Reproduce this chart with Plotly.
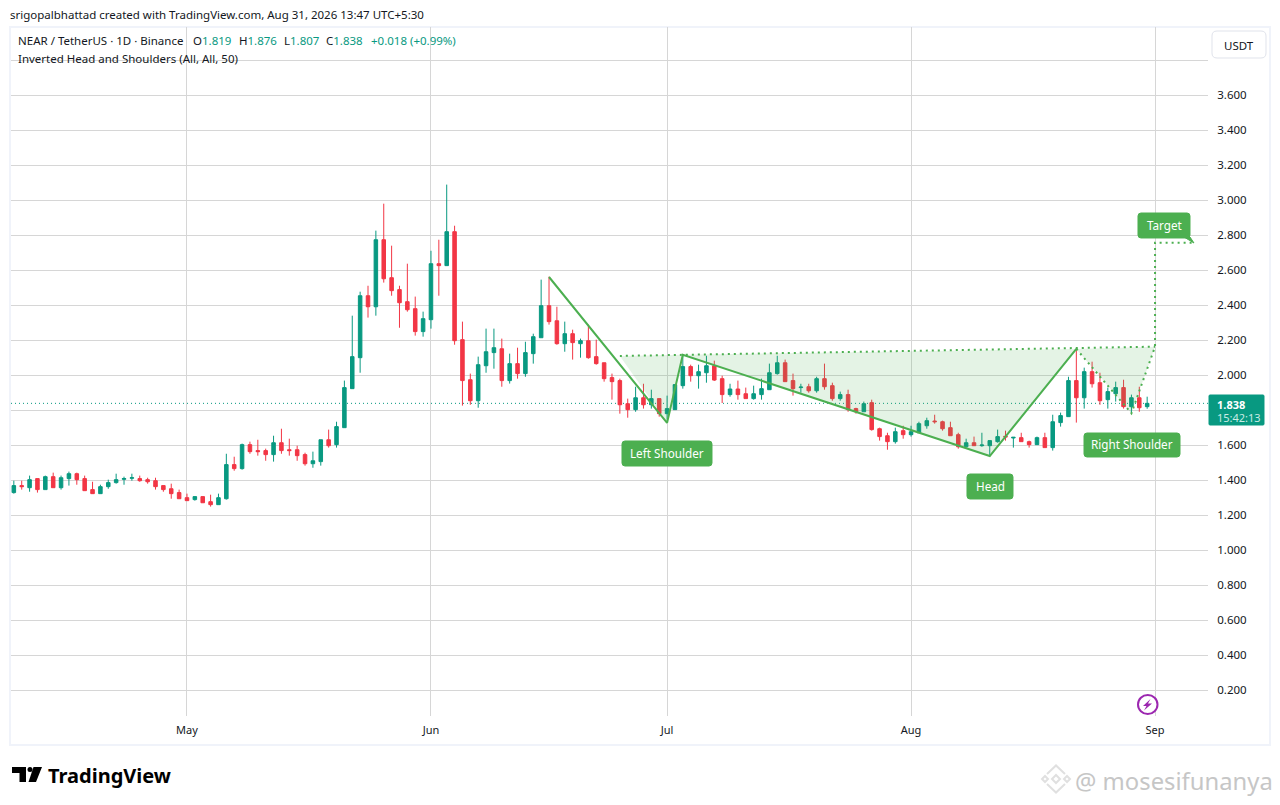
import pandas as pd
import plotly.graph_objects as go

# daily candles (Apr 9 to Aug 31)
dates = pd.date_range("2026-04-09", "2026-08-31", freq="D")
opens = [1.328,1.368,1.356,1.408,1.345,1.419,1.356,1.408,1.436,1.408,1.345,1.322,1.362,1.385,1.404,1.41,1.408,1.402,1.396,1.368,1.35,1.328,1.299,1.288,1.305,1.276,1.259,1.293,1.488,1.465,
         1.602,1.568,1.568,1.545,1.613,1.573,1.573,1.545,1.493,1.505,1.63,1.602,1.699,1.922,2.099,2.453,2.39,2.773,2.556,2.488,
         2.419,2.379,2.248,2.316,2.636,2.625,2.819,2.202,1.973,1.853,2.053,2.128,2.15,1.968,2.065,2.008,2.122,2.213,2.396,2.31,
         2.179,2.236,2.179,2.196,2.105,2.07,1.985,1.968,1.836,1.802,1.87,1.83,1.865,1.779,1.802,1.939,2.048,1.996,2.013,2.053,
         1.979,1.888,1.92,1.893,1.865,1.888,1.916,2.008,2.07,1.968,1.928,1.933,1.91,1.979,1.939,1.865,1.888,1.808,1.79,1.842,
         1.693,1.653,1.619,1.682,1.659,1.67,1.71,1.737,1.733,1.699,1.659,1.59,1.613,1.596,1.596,1.619,1.65,1.64,1.642,1.619,
         1.602,1.642,1.585,1.728,1.762,1.968,1.87,2.019,1.956,1.859,1.893,1.928,1.819,1.87,1.819]
highs = [1.396,1.396,1.425,1.408,1.425,1.442,1.425,1.448,1.442,1.425,1.39,1.373,1.402,1.436,1.419,1.436,1.425,1.413,1.413,1.368,1.379,1.345,1.322,1.305,1.305,1.316,1.322,1.55,1.533,1.608,
         1.619,1.63,1.579,1.653,1.693,1.636,1.596,1.556,1.562,1.63,1.688,1.733,1.968,2.339,2.476,2.51,2.825,2.979,2.739,2.51,
         2.636,2.448,2.362,2.71,2.773,3.088,2.853,2.305,2.008,2.105,2.265,2.265,2.208,2.122,2.156,2.19,2.236,2.545,2.562,2.39,
         2.305,2.259,2.208,2.288,2.202,2.07,2.008,1.979,1.865,1.933,1.95,1.916,1.865,1.882,1.945,2.116,2.059,2.059,2.11,2.082,
         1.996,1.95,1.968,1.928,1.939,1.979,2.065,2.11,2.088,2.008,1.95,1.95,1.99,2.065,1.956,1.905,1.916,1.813,1.848,1.859,
         1.699,1.67,1.699,1.71,1.71,1.733,1.756,1.773,1.739,1.733,1.67,1.636,1.648,1.67,1.625,1.688,1.682,1.644,1.67,1.625,
         1.648,1.67,1.773,1.785,1.99,2.15,2.042,2.076,2.013,1.928,1.962,1.973,1.888,1.933,1.876]
lows = [1.322,1.345,1.333,1.328,1.345,1.356,1.345,1.368,1.373,1.339,1.322,1.322,1.35,1.379,1.373,1.396,1.39,1.379,1.345,1.333,1.293,1.293,1.282,1.282,1.27,1.248,1.259,1.288,1.453,1.459,
        1.55,1.539,1.51,1.505,1.55,1.539,1.51,1.482,1.47,1.482,1.585,1.585,1.699,1.922,2.013,2.328,2.339,2.528,2.453,2.27,
        2.362,2.225,2.219,2.265,2.453,2.625,2.173,1.825,1.83,1.813,2.013,2.036,1.933,1.951,1.979,1.99,2.065,2.213,2.288,2.173,
        2.133,2.088,2.099,2.093,2.059,1.962,1.859,1.779,1.756,1.79,1.808,1.808,1.762,1.745,1.802,1.922,1.962,1.922,1.956,1.966,
        1.84,1.876,1.859,1.865,1.859,1.859,1.916,2.002,1.962,1.882,1.899,1.899,1.899,1.916,1.853,1.853,1.79,1.779,1.79,1.682,
        1.625,1.573,1.608,1.636,1.648,1.67,1.693,1.722,1.682,1.653,1.579,1.585,1.596,1.59,1.539,1.613,1.625,1.585,1.619,1.585,
        1.602,1.585,1.568,1.705,1.762,1.728,1.808,1.928,1.83,1.808,1.848,1.808,1.779,1.79,1.807]
closes = [1.368,1.362,1.402,1.345,1.419,1.356,1.413,1.436,1.402,1.339,1.322,1.362,1.385,1.402,1.408,1.413,1.396,1.39,1.362,1.345,1.322,1.293,1.282,1.305,1.27,1.259,1.299,1.488,1.465,1.602,
          1.562,1.562,1.545,1.613,1.568,1.568,1.539,1.493,1.51,1.63,1.596,1.705,1.928,2.105,2.453,2.39,2.773,2.55,2.482,2.413,
          2.373,2.248,2.322,2.636,2.625,2.819,2.196,1.968,1.853,2.059,2.133,2.156,1.968,2.065,2.008,2.128,2.219,2.396,2.305,2.179,
          2.236,2.185,2.196,2.099,2.065,1.979,1.962,1.83,1.802,1.87,1.83,1.865,1.779,1.808,1.945,2.048,1.996,2.019,2.053,1.971,
          1.888,1.92,1.888,1.865,1.893,1.922,2.013,2.07,1.962,1.922,1.931,1.91,1.979,1.933,1.865,1.888,1.802,1.79,1.836,1.688,
          1.648,1.619,1.676,1.659,1.676,1.722,1.739,1.733,1.693,1.653,1.59,1.613,1.596,1.6,1.625,1.648,1.646,1.644,1.619,1.602,
          1.642,1.585,1.733,1.768,1.968,1.87,2.019,1.95,1.853,1.905,1.928,1.819,1.87,1.813,1.838]
last_close = 1.838

month_ticks = ["2026-05-01", "2026-06-01", "2026-07-01", "2026-08-01", "2026-09-01"]
month_labels = ["May", "Jun", "Jul", "Aug", "Sep"]
price_ticks = [0.2, 0.4, 0.6, 0.8, 1.0, 1.2, 1.4, 1.6, 1.8, 2.0, 2.2, 2.4, 2.6, 2.8, 3.0, 3.2, 3.4, 3.6, 3.8]
price_labels = ["0.200", "0.400", "0.600", "0.800", "1.000", "1.200", "1.400", "1.600", "", "2.000",
                "2.200", "2.400", "2.600", "2.800", "3.000", "3.200", "3.400", "3.600", ""]

# head and shoulders drawing
solid_dates = ["2026-06-16", "2026-07-01", "2026-07-03", "2026-08-11", "2026-08-22"]
solid_prices = [2.56, 1.727, 2.116, 1.537, 2.149]
neck_dates = ["2026-06-25", "2026-09-01"]
neck_prices = [2.109, 2.162]
right_dates = ["2026-08-22", "2026-08-29", "2026-09-01", "2026-09-01", "2026-09-06"]
right_prices = [2.149, 1.781, 2.162, 2.756, 2.756]
shade_dates = ["2026-06-25", "2026-07-01", "2026-07-03", "2026-06-25", None,
               "2026-07-03", "2026-08-11", "2026-08-22", "2026-07-03", None,
               "2026-08-22", "2026-08-29", "2026-09-01", "2026-08-22"]
shade_prices = [2.109, 1.727, 2.116, 2.109, None,
                2.116, 1.537, 2.149, 2.116, None,
                2.149, 1.781, 2.162, 2.149]

UP = "#089981"
DOWN = "#f23645"
GREEN = "#4caf50"
GRID = "#d6d6d6"
TEXT = "#131722"
MARK = "#e0e0e0"
FONT = "Noto Sans"

L, R, T, B = 11, 1208, 27, 716


def px(x):
    return (x - L) / (R - L)


def py(y):
    return (B - y) / (B - T)


def path(points, close=True):
    s = "M " + " L ".join(f"{px(x):.5f},{py(y):.5f}" for x, y in points)
    return s + (" Z" if close else "")


def rounded(x0, y0, x1, y1, r=3):
    return (f"M {px(x0 + r):.5f},{py(y0):.5f} L {px(x1 - r):.5f},{py(y0):.5f} "
            f"Q {px(x1):.5f},{py(y0):.5f} {px(x1):.5f},{py(y0 + r):.5f} "
            f"L {px(x1):.5f},{py(y1 - r):.5f} Q {px(x1):.5f},{py(y1):.5f} {px(x1 - r):.5f},{py(y1):.5f} "
            f"L {px(x0 + r):.5f},{py(y1):.5f} Q {px(x0):.5f},{py(y1):.5f} {px(x0):.5f},{py(y1 - r):.5f} "
            f"L {px(x0):.5f},{py(y0 + r):.5f} Q {px(x0):.5f},{py(y0):.5f} {px(x0 + r):.5f},{py(y0):.5f} Z")


def box(x0, y0, x1, y1, fill, line=None, r=3):
    return dict(type="path", path=rounded(x0, y0, x1, y1, r), xref="paper", yref="paper",
                fillcolor=fill, line=dict(color=line or fill, width=1), layer="above")


def poly(points, fill="rgba(0,0,0,0)", line=None, width=1, close=True):
    return dict(type="path", path=path(points, close), xref="paper", yref="paper", fillcolor=fill,
                line=dict(color=line or "rgba(0,0,0,0)", width=width), layer="above")


def label(x, y, text, size=11.5, color=TEXT, anchor="left", font=FONT):
    # annotations carry about 2px of padding on the left
    x = x - 2 if anchor == "left" else x
    return dict(x=px(x), y=py(y), xref="paper", yref="paper", text=text, showarrow=False, xanchor=anchor,
                yanchor="middle", font=dict(family=font, size=size, color=color))


fig = go.Figure()
fig.add_trace(go.Candlestick(x=dates, open=opens, high=highs, low=lows, close=closes,
                             increasing=dict(line=dict(color=UP, width=1), fillcolor=UP),
                             decreasing=dict(line=dict(color=DOWN, width=1), fillcolor=DOWN),
                             whiskerwidth=0, hoverinfo="skip"))
fig.add_trace(go.Scatter(x=shade_dates, y=shade_prices, mode="none", fill="toself",
                         fillcolor="rgba(76,175,80,0.15)", hoverinfo="skip"))
fig.add_trace(go.Scatter(x=solid_dates, y=solid_prices, mode="lines", line=dict(color=GREEN, width=2), hoverinfo="skip"))
fig.add_trace(go.Scatter(x=neck_dates, y=neck_prices, mode="lines", line=dict(color=GREEN, width=2, dash="2px,4px"), hoverinfo="skip"))
fig.add_trace(go.Scatter(x=right_dates, y=right_prices, mode="lines", line=dict(color=GREEN, width=2, dash="2px,4px"), hoverinfo="skip"))

shapes = [
    # last price line
    dict(type="line", xref="paper", yref="y", x0=0, x1=1, y0=last_close, y1=last_close, layer="below",
         line=dict(color=UP, width=1, dash="1px,3px")),
    # outer frame
    dict(type="rect", xref="paper", yref="paper", x0=px(10), x1=px(1270), y0=py(27), y1=py(745),
         line=dict(color="#f0f3fa", width=2), layer="below"),
    box(622, 441, 712, 466, GREEN),
    box(967, 474, 1013, 499, GREEN),
    box(1084, 433, 1180, 457, GREEN),
    box(1138, 213, 1190, 238, GREEN),
    poly([(1184, 237), (1190, 237), (1194, 243)], fill=GREEN, line=GREEN),
    box(1212, 31, 1266, 58, "#ffffff", line="#e0e3eb", r=5),
    box(1209, 395, 1264, 425, UP, r=1),
    # flash icon
    dict(type="circle", xref="paper", yref="paper", x0=px(1138), x1=px(1157.5), y0=py(695), y1=py(714),
         line=dict(color="#9c27b0", width=2), fillcolor="#ffffff", layer="above"),
    poly([(1150.5, 699), (1143, 706), (1146.5, 706), (1144, 710.5), (1152, 703.5), (1148, 703.5)], fill="#9c27b0"),
    # TradingView mark
    poly([(12, 767), (26, 767), (26, 782), (19.5, 782), (19.5, 773), (12, 773)], fill="#000000"),
    dict(type="circle", xref="paper", yref="paper", x0=px(27.5), x1=px(32.5), y0=py(767), y1=py(772),
         fillcolor="#000000", line=dict(width=0), layer="above"),
    poly([(33.5, 767), (42, 767), (36, 782), (28.5, 782)], fill="#000000"),
    # watermark diamonds
    poly([(1056, 775), (1060, 779), (1056, 783), (1052, 779)], line=MARK, width=2),
    poly([(1047, 774), (1056, 765.5), (1065, 774)], line=MARK, width=2, close=False),
    poly([(1047, 784), (1056, 792.5), (1065, 784)], line=MARK, width=2, close=False),
    poly([(1045, 776), (1048, 779), (1045, 782), (1042, 779)], line=MARK, width=2),
    poly([(1067, 776), (1070, 779), (1067, 782), (1064, 779)], line=MARK, width=2),
]

annotations = [
    label(10, 14, "srigopalbhattad created with TradingView.com, Aug 31, 2026 13:47 UTC+5:30"),
    label(18, 41, "NEAR / TetherUS · 1D · Binance"),
    label(193, 41, f'O<span style="color:{UP}">1.819</span>'),
    label(239, 41, f'H<span style="color:{UP}">1.876</span>'),
    label(284, 41, f'L<span style="color:{UP}">1.807</span>'),
    label(326, 41, f'C<span style="color:{UP}">1.838</span>'),
    label(371, 41, "+0.018 (+0.99%)", color=UP),
    label(18, 58, "Inverted Head and Shoulders (All, All, 50)"),
    label(667, 453, "Left Shoulder", size=11.7, color="#ffffff", anchor="center"),
    label(990, 486, "Head", size=11.7, color="#ffffff", anchor="center"),
    label(1132, 444, "Right Shoulder", size=11.7, color="#ffffff", anchor="center"),
    label(1164, 225, "Target", size=11.7, color="#ffffff", anchor="center"),
    label(1239, 45, "USDT", color=TEXT, anchor="center"),
    label(1217, 404, "<b>1.838</b>", size=11, color="#ffffff"),
    label(1217, 417, "15:42:13", size=11, color="#c9ebe5"),
    label(48, 775, "<b>TradingView</b>", size=20, color="#000000"),
    label(1075, 781, "@ mosesifunanya", size=23.8, color="#c6c6c6"),
]

fig.update_layout(
    width=1280, height=805, showlegend=False, paper_bgcolor="#ffffff", plot_bgcolor="#ffffff",
    margin=dict(l=L, r=1280 - R, t=T, b=805 - B), boxgap=0.36, hovermode=False,
    shapes=shapes, annotations=annotations,
    font=dict(family=FONT, size=12, color=TEXT),
)
fig.update_xaxes(type="date", range=["2026-04-08 15:21", "2026-09-07 17:30"], rangeslider_visible=False,
                 tickmode="array", tickvals=month_ticks, ticktext=month_labels, showgrid=True, gridcolor=GRID,
                 gridwidth=1, zeroline=False, showline=False, ticks="outside", ticklen=4,
                 tickcolor="rgba(0,0,0,0)", tickfont=dict(family=FONT, size=11, color=TEXT))
fig.update_yaxes(side="right", range=[0.0514, 3.9886], tickmode="array", tickvals=price_ticks,
                 ticktext=price_labels, showgrid=True, gridcolor=GRID, gridwidth=1, zeroline=False,
                 showline=False, ticks="outside", ticklen=6, tickcolor="rgba(0,0,0,0)",
                 tickfont=dict(family=FONT, size=11.5, color=TEXT))

fig.write_html("out.html", config=dict(displayModeBar=False),
               post_script="document.body.style.margin='0';document.body.style.overflow='hidden';")
